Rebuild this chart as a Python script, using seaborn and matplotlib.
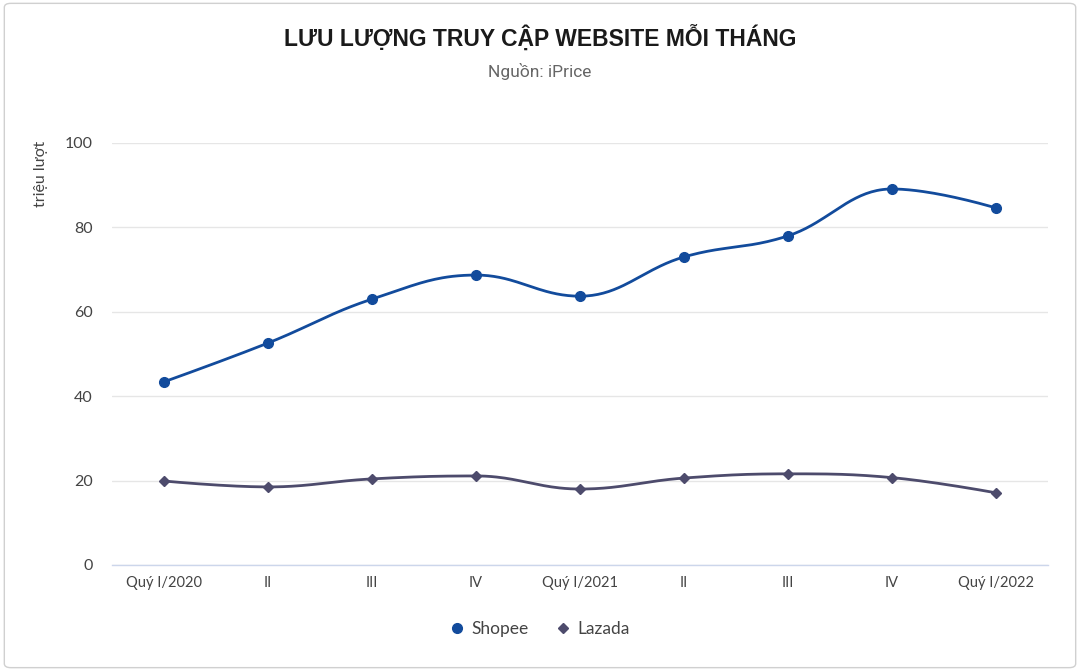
import numpy as np
import pandas as pd
import matplotlib
matplotlib.use("Agg")
import matplotlib.pyplot as plt
import seaborn as sns
from matplotlib.patches import FancyBboxPatch
from matplotlib.lines import Line2D

categories = ["Quý I/2020", "II", "III", "IV", "Quý I/2021", "II", "III", "IV", "Quý I/2022"]
shopee = [43.4, 52.6, 63.0, 68.7, 63.7, 73.0, 78.0, 89.1, 84.6]
lazada = [19.9, 18.5, 20.4, 21.1, 18.0, 20.6, 21.6, 20.7, 17.1]
y_ticks = [0, 20, 40, 60, 80, 100]

SHOPEE_C = "#124b9c"
LAZADA_C = "#4d4b6c"


def hc_spline(xs, ys, n=40):
    """Highcharts-style spline through the given points (bezier segments)."""
    xs = list(map(float, xs)); ys = list(map(float, ys))
    k = len(xs)
    sm, den = 1.5, 2.5
    lc = [None] * k
    rc = [None] * k
    for i in range(k):
        px, py = xs[i], ys[i]
        if 0 < i < k - 1:
            lx, ly = xs[i - 1], ys[i - 1]
            nx, ny = xs[i + 1], ys[i + 1]
            lcx = (sm * px + lx) / den
            lcy = (sm * py + ly) / den
            rcx = (sm * px + nx) / den
            rcy = (sm * py + ny) / den
            if rcx != lcx:
                corr = ((rcy - lcy) * (rcx - px)) / (rcx - lcx) + py - rcy
                lcy += corr
                rcy += corr
            if lcy > ly and lcy > py:
                lcy = max(ly, py); rcy = 2 * py - lcy
            elif lcy < ly and lcy < py:
                lcy = min(ly, py); rcy = 2 * py - lcy
            if rcy > ny and rcy > py:
                rcy = max(ny, py); lcy = 2 * py - rcy
            elif rcy < ny and rcy < py:
                rcy = min(ny, py); lcy = 2 * py - rcy
            lc[i] = (lcx, lcy); rc[i] = (rcx, rcy)
        else:
            lc[i] = (px, py); rc[i] = (px, py)
    out_x, out_y = [xs[0]], [ys[0]]
    t = np.linspace(0, 1, n)[1:]
    for i in range(1, k):
        p0 = np.array([xs[i - 1], ys[i - 1]])
        p1 = np.array(rc[i - 1])
        p2 = np.array(lc[i])
        p3 = np.array([xs[i], ys[i]])
        pts = ((1 - t) ** 3)[:, None] * p0 + (3 * (1 - t) ** 2 * t)[:, None] * p1 \
            + (3 * (1 - t) * t ** 2)[:, None] * p2 + (t ** 3)[:, None] * p3
        out_x.extend(pts[:, 0]); out_y.extend(pts[:, 1])
    return np.array(out_x), np.array(out_y)


sns.set_theme(style="white")
plt.rcParams["font.family"] = ["Lato", "DejaVu Sans"]

fig = plt.figure(figsize=(10.8, 6.71), dpi=100)
fig.patch.set_facecolor("white")
fig.patches.append(FancyBboxPatch((0.004, 0.005), 0.992, 0.99, boxstyle="round,pad=0,rounding_size=0.006",
                                  transform=fig.transFigure, facecolor="none", edgecolor="#d0d0d0",
                                  linewidth=1.0))

ax = fig.add_axes([0.1037, 0.158, 0.8667, 0.6289])
x = np.arange(len(categories))

for vals, col, mk, ms in [(shopee, SHOPEE_C, "o", 7), (lazada, LAZADA_C, "D", 5)]:
    sx, sy = hc_spline(x, vals)
    sns.lineplot(x=sx, y=sy, ax=ax, color=col, linewidth=2.0, sort=False, estimator=None, zorder=3)
    ax.plot(x, vals, linestyle="none", marker=mk, markersize=ms, color=col,
            markeredgecolor=col, zorder=4)

ax.set_xlim(-0.5, len(categories) - 0.5)
ax.set_ylim(0, 100)
ax.set_yticks(y_ticks)
ax.set_yticklabels([str(v) for v in y_ticks], fontsize=11.5, color="#444444")
ax.set_xticks(x)
ax.set_xticklabels(categories, fontsize=10.5, color="#444444")
ax.tick_params(axis="x", length=0, pad=8)
ax.tick_params(axis="y", length=0, pad=14)
ax.grid(axis="y", color="#e6e6e6", linewidth=1.0)
ax.set_axisbelow(True)
for s in ["top", "right", "left"]:
    ax.spines[s].set_visible(False)
ax.spines["bottom"].set_color("#ccd6eb")
ax.spines["bottom"].set_linewidth(1.0)

fig.text(0.0375, 0.79, "triệu lượt", rotation=90, ha="center", va="top", fontsize=11.5, color="#444444")

fig.text(0.5, 0.942, "LƯU LƯỢNG TRUY CẬP WEBSITE MỖI THÁNG", ha="center", va="center",
         fontsize=16.5, fontweight="bold", color="#1a1a1a", family=["Liberation Sans", "DejaVu Sans"])
fig.text(0.5, 0.894, "Nguồn: iPrice", ha="center", va="center", fontsize=12.5, color="#666666",
         family=["Roboto", "DejaVu Sans"])

handles = [
    Line2D([], [], color=SHOPEE_C, marker="o", markersize=7, linewidth=0),
    Line2D([], [], color=LAZADA_C, marker="D", markersize=5, linewidth=0),
]
fig.legend(handles, ["Shopee", "Lazada"], loc="center", bbox_to_anchor=(0.5, 0.063), ncol=2,
           frameon=False, fontsize=12.5, handlelength=0.8, handletextpad=0.4, columnspacing=1.6,
           labelcolor="#444444")

fig.savefig("out.png", dpi=100, facecolor="white")
